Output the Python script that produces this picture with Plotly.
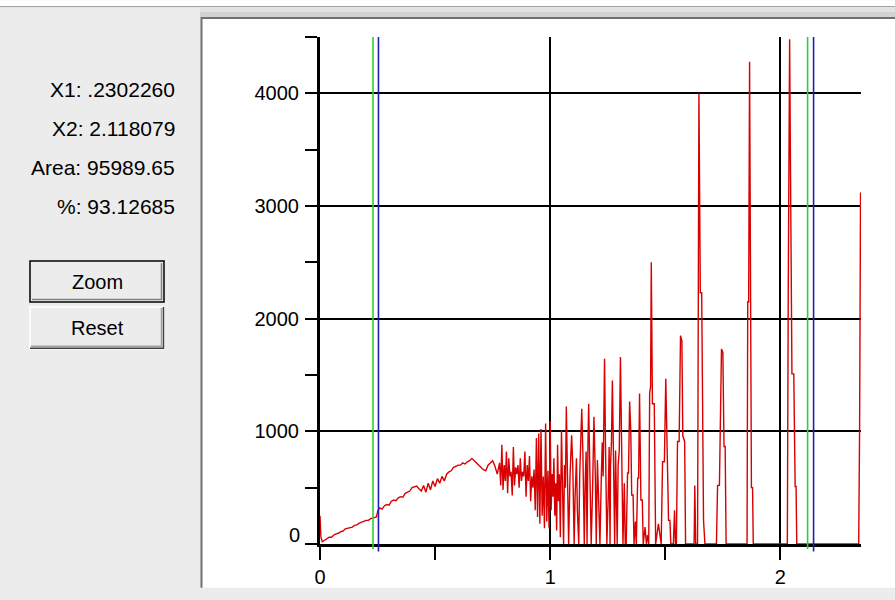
import plotly.graph_objects as go

# ---------------- data ----------------
spec_x = [0.000, 0.004, 0.010, 0.020, 0.030, 0.040, 0.050, 0.060, 0.070, 0.080,
          0.090, 0.100, 0.110, 0.120, 0.130, 0.140, 0.150, 0.160, 0.170, 0.180,
          0.190, 0.200, 0.210, 0.220, 0.230, 0.245, 0.252, 0.260, 0.270, 0.280,
          0.290, 0.300, 0.310, 0.320, 0.330, 0.340, 0.350, 0.360, 0.370, 0.380,
          0.390, 0.400, 0.410, 0.420, 0.430, 0.440, 0.450, 0.460, 0.470, 0.480,
          0.490, 0.500, 0.510, 0.520, 0.530, 0.540, 0.550, 0.560, 0.570, 0.580,
          0.590, 0.600, 0.610, 0.620, 0.630, 0.640, 0.650, 0.660, 0.670, 0.680,
          0.690, 0.700, 0.710, 0.720, 0.730, 0.740, 0.750, 0.760, 0.770,
          0.780, 0.785, 0.790, 0.795, 0.800, 0.805, 0.810, 0.815, 0.820, 0.825,
          0.830, 0.835, 0.840, 0.845, 0.850, 0.855, 0.860, 0.865, 0.870, 0.875,
          0.880, 0.885, 0.890, 0.895, 0.900, 0.905, 0.910, 0.915, 0.920, 0.925,
          0.930, 0.935, 0.940, 0.945, 0.950, 0.955, 0.960, 0.965, 0.970, 0.975,
          0.980, 0.985, 0.990, 0.995, 1.000,
          1.004, 1.008, 1.012, 1.016, 1.020, 1.024, 1.028, 1.032, 1.036, 1.040,
          1.044, 1.049, 1.054, 1.058,
          1.062, 1.066, 1.070, 1.075, 1.080,
          1.086, 1.090, 1.093, 1.098, 1.104,
          1.108, 1.114, 1.118, 1.124,
          1.128, 1.132, 1.137, 1.142, 1.148,
          1.152, 1.156, 1.160,
          1.162, 1.164, 1.167, 1.172, 1.178,
          1.184, 1.190, 1.196, 1.200, 1.205, 1.210, 1.216,
          1.222, 1.226, 1.230, 1.236, 1.240, 1.246,
          1.252, 1.256, 1.260,
          1.262, 1.266, 1.270, 1.274, 1.280,
          1.284, 1.287, 1.291,
          1.295, 1.300, 1.305, 1.310, 1.316,
          1.322, 1.326,
          1.330, 1.336, 1.340, 1.345, 1.350, 1.354, 1.360, 1.364,
          1.370,
          1.374, 1.380, 1.384, 1.388, 1.394, 1.400, 1.404,
          1.412,
          1.418, 1.423, 1.428, 1.432, 1.436, 1.439, 1.444, 1.452, 1.458,
          1.470,
          1.482, 1.488, 1.496, 1.502, 1.508, 1.514, 1.520, 1.524,
          1.535, 1.540, 1.544,
          1.548, 1.553, 1.560, 1.566, 1.572, 1.576, 1.584, 1.588,
          1.610, 1.625, 1.628, 1.632,
          1.640, 1.646, 1.652, 1.658, 1.666, 1.672,
          1.700,
          1.722, 1.727, 1.735, 1.744, 1.750, 1.755, 1.760, 1.764,
          1.800,
          1.855, 1.858, 1.862, 1.866, 1.869, 1.874, 1.879, 1.882,
          1.950, 2.000,
          2.030, 2.034, 2.040, 2.044, 2.050, 2.058, 2.064, 2.068, 2.071,
          2.150, 2.250, 2.340, 2.344, 2.348]

spec_y = [250, 60, 20, 35, 45, 60, 60, 80, 90, 95,
          110, 115, 135, 140, 150, 150, 165, 170, 185, 190,
          200, 210, 210, 225, 230, 240, 300, 320, 310, 340,
          350, 345, 380, 390, 385, 410, 420, 415, 450, 460,
          470, 500, 510, 515, 490, 470, 520, 460, 540, 480,
          560, 510, 580, 540, 600, 560, 620, 640, 650, 680,
          690, 700, 700, 720, 710, 730, 740, 760, 740, 720,
          700, 680, 660, 650, 700, 720, 740, 690, 620,
          720, 520, 880, 480, 700, 560, 820, 450, 760, 600,
          640, 430, 860, 520, 680, 620, 700, 500, 760, 560,
          640, 600, 820, 420, 700, 560, 780, 380, 600, 500,
          660, 300, 940, 240, 980, 180, 1020, 250, 600, 140,
          1070, 200, 650, 140, 1090,
          300, 620, 420, 760, 250, 540, 120, 880, 380, 620,
          60, 1010, 300, 0,
          700, 500, 1220, 500, 0,
          600, 800, 965, 700, 0,
          420, 760, 300, 0,
          600, 850, 1200, 800, 0,
          560, 820, 0,
          700, 900, 1245, 500, 0,
          480, 1130, 600, 0, 745, 380, 0,
          600, 900, 600, 1645, 900, 0,
          420, 860, 0,
          700, 900, 1450, 900, 0,
          830, 500, 0,
          700, 830, 1660, 830, 0,
          540, 0,
          0, 630, 630, 1265, 1000, 435, 435, 0,
          200,
          0, 585, 585, 1335, 390, 390, 0,
          150,
          0, 80, 0, 1335, 1400, 2500, 1245, 1245, 0,
          180,
          0, 730, 730, 1467, 900, 210, 210, 0,
          0, 300, 0,
          0, 910, 910, 1850, 1800, 960, 910, 0,
          0, 0, 520, 0,
          0, 4000, 2230, 2230, 210, 0,
          0,
          0, 520, 520, 1730, 1700, 865, 865, 0,
          0,
          0, 2150, 2150, 4280, 2630, 500, 500, 0,
          0, 0,
          0, 2250, 4480, 3250, 1510, 1510, 510, 510, 0,
          0, 0, 0, 1050, 3120]

cursor_green = [0.2302260, 2.118079]
cursor_blue = [0.2540, 2.1440]

x_tick_vals = [0, 1, 2]
x_tick_text = ["0", "1", "2"]
y_tick_vals = [0, 1000, 2000, 3000, 4000]
y_tick_text = ["", "1000", "2000", "3000", "4000"]
y_zero_label = "0"

info_labels = ["X1: .2302260", "X2: 2.118079", "Area: 95989.65", "%: 93.12685"]
button_labels = ["Zoom", "Reset"]

# ---------------- layout helpers (pixel -> paper) ----------------
W_PX, H_PX = 895, 600
L, R, T, B = 320, 861, 37, 546
PW, PH = R - L, B - T


def fx(px):
    return (px - L) / PW


def fy(py):
    return (B - py) / PH


FONT = "Liberation Sans, Arial, sans-serif"

fig = go.Figure()
fig.add_trace(go.Scatter(x=spec_x, y=spec_y, mode="lines",
                         line=dict(color="#d80000", width=1.4),
                         hoverinfo="skip", showlegend=False))

shapes = []
# window chrome
shapes.append(dict(type="rect", xref="paper", yref="paper", x0=fx(0), x1=fx(895),
                   y0=fy(0), y1=fy(6), fillcolor="white", line_width=0, layer="below"))
shapes.append(dict(type="line", xref="paper", yref="paper", x0=fx(0), x1=fx(895),
                   y0=fy(6.5), y1=fy(6.5), line=dict(color="#9c9c9c", width=1), layer="below"))
shapes.append(dict(type="rect", xref="paper", yref="paper", x0=fx(200), x1=fx(895),
                   y0=fy(7), y1=fy(12), fillcolor="#e2e2e2", line_width=0, layer="below"))
shapes.append(dict(type="rect", xref="paper", yref="paper", x0=fx(200), x1=fx(895),
                   y0=fy(12), y1=fy(17), fillcolor="#d2d2d2", line_width=0, layer="below"))
shapes.append(dict(type="rect", xref="paper", yref="paper", x0=fx(201), x1=fx(895),
                   y0=fy(18), y1=fy(590), fillcolor="white", line_width=0, layer="below"))
shapes.append(dict(type="line", xref="paper", yref="paper", x0=fx(201.5), x1=fx(201.5),
                   y0=fy(17), y1=fy(590), line=dict(color="#707070", width=2), layer="below"))
shapes.append(dict(type="line", xref="paper", yref="paper", x0=fx(201), x1=fx(895),
                   y0=fy(18), y1=fy(18), line=dict(color="#707070", width=2), layer="below"))

# buttons
# Zoom (default button, dark frame)
shapes.append(dict(type="rect", xref="paper", yref="paper", x0=fx(30), x1=fx(164),
                   y0=fy(303), y1=fy(262), fillcolor="#ececec",
                   line=dict(color="#000000", width=1.5), layer="below"))
shapes.append(dict(type="line", xref="paper", yref="paper", x0=fx(32), x1=fx(162),
                   y0=fy(300.5), y1=fy(300.5), line=dict(color="#808080", width=1.5), layer="below"))
shapes.append(dict(type="line", xref="paper", yref="paper", x0=fx(161.5), x1=fx(161.5),
                   y0=fy(264), y1=fy(301), line=dict(color="#808080", width=1.5), layer="below"))
# Reset
shapes.append(dict(type="rect", xref="paper", yref="paper", x0=fx(30), x1=fx(164),
                   y0=fy(350), y1=fy(308), fillcolor="#ececec",
                   line=dict(color="#ffffff", width=1.5), layer="below"))
shapes.append(dict(type="line", xref="paper", yref="paper", x0=fx(30), x1=fx(164),
                   y0=fy(349.5), y1=fy(349.5), line=dict(color="#404040", width=1.5), layer="below"))
shapes.append(dict(type="line", xref="paper", yref="paper", x0=fx(163.5), x1=fx(163.5),
                   y0=fy(308), y1=fy(350), line=dict(color="#404040", width=1.5), layer="below"))
shapes.append(dict(type="line", xref="paper", yref="paper", x0=fx(31), x1=fx(162),
                   y0=fy(347.5), y1=fy(347.5), line=dict(color="#a0a0a0", width=1.5), layer="below"))
shapes.append(dict(type="line", xref="paper", yref="paper", x0=fx(161.5), x1=fx(161.5),
                   y0=fy(309), y1=fy(348), line=dict(color="#a0a0a0", width=1.5), layer="below"))

# cursor lines
for xv in cursor_green:
    shapes.append(dict(type="line", xref="x", yref="paper", x0=xv, x1=xv,
                       y0=-0.01, y1=1, line=dict(color="#2ed12e", width=1.6), layer="above"))
for xv in cursor_blue:
    shapes.append(dict(type="line", xref="x", yref="paper", x0=xv, x1=xv,
                       y0=-0.015, y1=1, line=dict(color="#2020b0", width=1.6), layer="above"))

annotations = []
info_py = [90, 129, 168, 207]
for txt, py in zip(info_labels, info_py):
    annotations.append(dict(text=txt, xref="paper", yref="paper", x=fx(177), y=fy(py),
                            xanchor="right", yanchor="middle", showarrow=False,
                            font=dict(family=FONT, size=21, color="#000000")))
for txt, py in zip(button_labels, [283, 329]):
    annotations.append(dict(text=txt, xref="paper", yref="paper", x=fx(97), y=fy(py),
                            xanchor="center", yanchor="middle", showarrow=False,
                            font=dict(family=FONT, size=20, color="#000000")))
annotations.append(dict(text=y_zero_label, xref="paper", yref="y", x=fx(302), y=0,
                        xanchor="right", yanchor="middle", yshift=9, showarrow=False,
                        font=dict(family=FONT, size=20, color="#000000")))

fig.update_layout(
    width=W_PX, height=H_PX,
    margin=dict(l=L, r=W_PX - R, t=T, b=H_PX - B, pad=0),
    paper_bgcolor="#ececec",
    plot_bgcolor="rgba(0,0,0,0)",
    shapes=shapes,
    annotations=annotations,
    showlegend=False,
    xaxis=dict(range=[0, 2.35], tickmode="array", tickvals=x_tick_vals, ticktext=x_tick_text,
               ticks="outside", ticklen=13, tickwidth=2, tickcolor="black",
               showgrid=True, gridcolor="black", gridwidth=2,
               minor=dict(dtick=0.5, tick0=0, ticks="outside", ticklen=13, tickwidth=2,
                          tickcolor="black", showgrid=False),
               showline=True, linewidth=3, linecolor="black", zeroline=False,
               tickfont=dict(family=FONT, size=20, color="black"), ticklabelstandoff=0,
               fixedrange=True),
    yaxis=dict(range=[0, 4500], tickmode="array", tickvals=y_tick_vals, ticktext=y_tick_text,
               ticks="outside", ticklen=12, tickwidth=2, tickcolor="black",
               showgrid=True, gridcolor="black", gridwidth=2,
               minor=dict(dtick=500, tick0=0, ticks="outside", ticklen=12, tickwidth=2,
                          tickcolor="black", showgrid=False),
               showline=True, linewidth=3, linecolor="black", zeroline=False,
               tickfont=dict(family=FONT, size=20, color="black"), ticklabelstandoff=2,
               fixedrange=True),
)

fig.write_html("out.html", config=dict(displayModeBar=False),
               post_script="document.body.style.margin='0';document.body.style.padding='0';"
                           "document.body.style.overflow='hidden';")
